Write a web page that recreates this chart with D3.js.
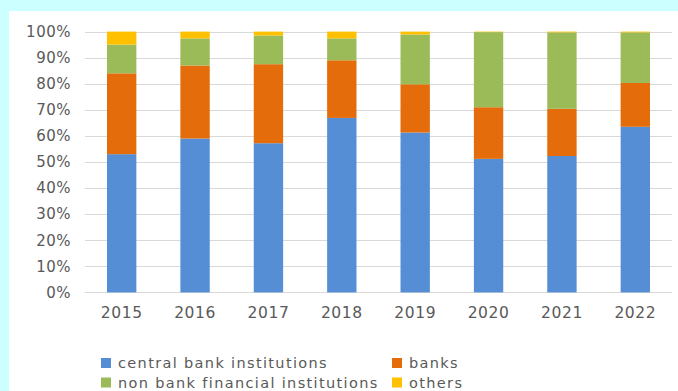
<!DOCTYPE html>
<html>
<head>
<meta charset="utf-8">
<script src="https://cdn.jsdelivr.net/npm/d3@7/dist/d3.min.js"></script>
<style>
  html, body { margin: 0; padding: 0; background: #ccffff; }
  svg { display: block; }
  text { font-family: "DejaVu Sans", sans-serif; fill: #595959; }
</style>
</head>
<body>
<svg id="chart" width="678" height="391"></svg>
<script>
// Share of holdings by sector, per year (percent of total)
const years = ["2015", "2016", "2017", "2018", "2019", "2020", "2021", "2022"];
const centralBank = [53.0, 59.0, 57.2, 66.9, 61.3, 51.2, 52.3, 63.5];
const banks       = [31.0, 28.0, 30.3, 22.1, 18.5, 19.8, 18.1, 16.8];
const nonBank     = [11.0, 10.4, 11.0,  8.4, 19.1, 28.8, 29.3, 19.4];
const others      = [ 5.0,  2.6,  1.5,  2.6,  1.1,  0.2,  0.3,  0.3];
const yTicks = [0, 10, 20, 30, 40, 50, 60, 70, 80, 90, 100];

const seriesNames = ["central bank institutions", "banks", "non bank financial institutions", "others"];
const seriesKeys = ["central", "banks", "nonbank", "others"];
const colors = ["#558ed5", "#e46c0a", "#9bbb59", "#ffc000"];

const rows = years.map((yr, i) => ({
  year: yr, central: centralBank[i], banks: banks[i], nonbank: nonBank[i], others: others[i]
}));

const svg = d3.select("#chart");

// white panel
svg.append("rect").attr("x", 9).attr("y", 11).attr("width", 678 - 9).attr("height", 391 - 11).attr("fill", "#ffffff");

const plot = { left: 85, right: 672, top: 31.6, bottom: 292.4 };

const x = d3.scaleBand().domain(years).range([plot.left, plot.right]).paddingInner(0.6).paddingOuter(0.3);
const y = d3.scaleLinear().domain([0, 100]).range([plot.bottom, plot.top]);

// gridlines
svg.append("g").selectAll("line").data(yTicks).join("line")
  .attr("x1", plot.left).attr("x2", plot.right)
  .attr("y1", d => Math.round(y(d)) + 0.5).attr("y2", d => Math.round(y(d)) + 0.5)
  .attr("stroke", "#d9d9d9").attr("stroke-width", 1);

// y axis labels
const yAxis = d3.axisLeft(y).tickValues(yTicks).tickFormat(d => d + "%").tickSize(0).tickPadding(14);
const gy = svg.append("g").attr("transform", `translate(${plot.left},0)`).call(yAxis);
gy.select(".domain").remove();
gy.selectAll("text").style("font-size", "15px").style("font-family", "DejaVu Sans")
  .attr("letter-spacing", "0.5px").attr("fill", "#595959");

// x axis labels
const xAxis = d3.axisBottom(x).tickSize(0).tickPadding(15);
const gx = svg.append("g").attr("transform", `translate(0,${plot.bottom})`).call(xAxis);
gx.select(".domain").remove();
gx.selectAll("text").style("font-size", "15.5px").style("font-family", "DejaVu Sans")
  .attr("letter-spacing", "0.6px").attr("fill", "#595959");

// stacked bars
const stack = d3.stack().keys(seriesKeys);
const layers = stack(rows);
svg.append("g").selectAll("g").data(layers).join("g")
  .attr("fill", (d, i) => colors[i])
  .selectAll("rect").data(d => d).join("rect")
  .attr("x", d => x(d.data.year))
  .attr("width", x.bandwidth())
  .attr("y", d => y(d[1]))
  .attr("height", d => y(d[0]) - y(d[1]));

// legend, two columns
const legendPos = [
  { x: 101, y: 363 }, { x: 392, y: 363 },
  { x: 101, y: 382.5 }, { x: 392, y: 382.5 }
];
const legend = svg.append("g").selectAll("g").data(seriesNames).join("g")
  .attr("transform", (d, i) => `translate(${legendPos[i].x},${legendPos[i].y})`);
legend.append("rect").attr("x", 0).attr("y", -5).attr("width", 10).attr("height", 10)
  .attr("fill", (d, i) => colors[i]);
legend.append("text").attr("x", 17).attr("y", 0).attr("dy", "0.35em")
  .style("font-size", "14.5px").attr("letter-spacing", "1.35px").text(d => d);
</script>
</body>
</html>
